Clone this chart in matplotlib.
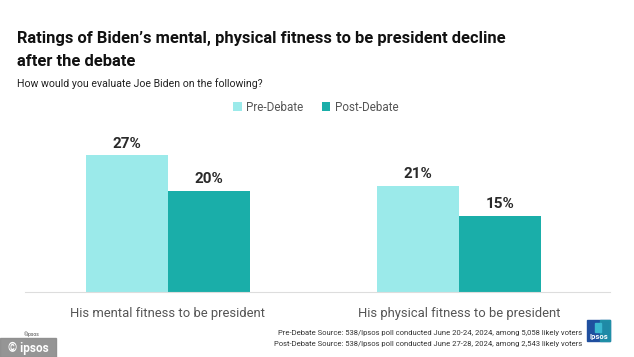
import numpy as np
import matplotlib.pyplot as plt
from matplotlib.patches import Rectangle

plt.rcParams['font.family'] = ['Roboto', 'DejaVu Sans']

categories = ['His mental fitness to be president', 'His physical fitness to be president']
pre_debate = [27, 21]
post_debate = [20, 15]
series_names = ['Pre-Debate', 'Post-Debate']
col_pre = '#9beaea'
col_post = '#1aaea9'

fig = plt.figure(figsize=(6.34, 3.57), dpi=100)
W, H = 634, 357

def fx(px):
    return px / W

def fy(py):
    return 1 - py / H

# title + subtitle
fig.text(fx(17), fy(38), "Ratings of Biden\u2019s mental, physical fitness to be president decline",
         fontsize=11.9, fontweight='bold', color='#111111', va='center', ha='left')
fig.text(fx(17), fy(61), "after the debate",
         fontsize=11.9, fontweight='bold', color='#111111', va='center', ha='left')
fig.text(fx(17), fy(84), "How would you evaluate Joe Biden on the following?",
         fontsize=7.6, color='#222222', va='center', ha='left')

ax = fig.add_axes([fx(25), fy(292), fx(610) - fx(25), (292 - 140) / H])
x = np.arange(len(categories))
w = 0.282
b1 = ax.bar(x - w / 2, pre_debate, w, color=col_pre, label=series_names[0])
b2 = ax.bar(x + w / 2, post_debate, w, color=col_post, label=series_names[1])
ax.set_xlim(-0.491, 1.519)
ax.set_ylim(0, 30)
for bars in (b1, b2):
    for r in bars:
        ax.text(r.get_x() + r.get_width() / 2, r.get_height() + 0.9, f"{r.get_height():.0f}%",
                ha='center', va='bottom', fontsize=11, fontweight='bold', color='#2a2a2a')
for s in ['top', 'right', 'left']:
    ax.spines[s].set_visible(False)
ax.spines['bottom'].set_color('#dddddd')
ax.set_yticks([])
ax.set_xticks(x)
ax.set_xticklabels(categories, fontsize=9.4, color='#555555')
ax.tick_params(axis='x', length=0, pad=11)

leg = fig.legend(loc='center', bbox_to_anchor=(fx(316), fy(107)), ncol=2, frameon=False,
                 fontsize=8.4, handlelength=0.7, handleheight=0.7, handletextpad=0.4, columnspacing=1.6)
for t in leg.get_texts():
    t.set_color('#555555')

# source notes
fig.text(fx(582), fy(333), "Pre-Debate Source: 538/Ipsos poll conducted June 20-24, 2024, among 5,058 likely voters",
         fontsize=5.5, color='#333333', ha='right', va='center')
fig.text(fx(582), fy(344), "Post-Debate Source: 538/Ipsos poll conducted June 27-28, 2024, among 2,543 likely voters",
         fontsize=5.5, color='#333333', ha='right', va='center')

# ipsos logo
fig.patches.append(Rectangle((fx(587), fy(341)), fx(23), 21 / H,
                             transform=fig.transFigure, color='#1f4f9f'))
fig.patches.append(Rectangle((fx(600), fy(341)), fx(10), 21 / H,
                             transform=fig.transFigure, color='#1f9aa8', alpha=0.8))
fig.patches.append(Rectangle((fx(595), fy(332)), fx(6), 9 / H,
                             transform=fig.transFigure, color='#3bb8d0'))
fig.text(fx(598.5), fy(336), "Ipsos", fontsize=5.5, fontweight='bold', color='white', ha='center', va='center')

# watermark
fig.patches.append(Rectangle((0, 0), fx(56), 19 / H, transform=fig.transFigure, color='#8a8a8a', alpha=0.9))
fig.text(fx(28), fy(348), "\u00a9 ipsos", fontsize=8.5, fontweight='bold', color='white', ha='center', va='center')
fig.text(fx(32), fy(334), "\u00a9Ipsos", fontsize=3.5, color='#444444', ha='center', va='center')

fig.savefig('out.png', dpi=100)
